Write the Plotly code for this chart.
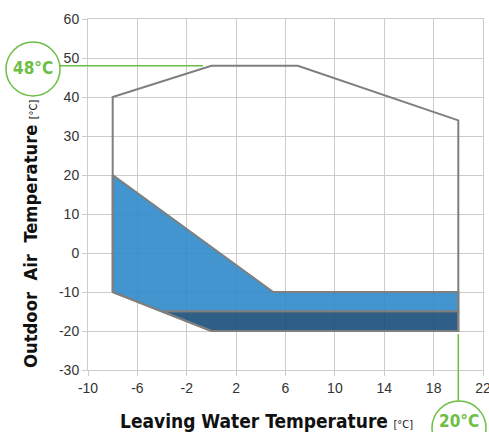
"""Operating envelope chart: outdoor air vs leaving water temperature."""

import plotly.graph_objects as go

# envelope outline (leaving water temp, outdoor air temp)
envelope_x = [-8, -8, 0, 7, 20, 20, 0, -8]
envelope_y = [-10, 40, 48, 48, 34, -20, -20, -10]

# heating region (light blue)
heat_x = [-8, 5, 20, 20, -4, -8, -8]
heat_y = [20, -10, -10, -15, -15, -10, 20]

# low temperature region (dark blue)
low_x = [-4, 20, 20, 0, -4]
low_y = [-15, -15, -20, -20, -15]

# axis ticks
x_ticks = [-10, -6, -2, 2, 6, 10, 14, 18, 22]
y_ticks = [-30, -20, -10, 0, 10, 20, 30, 40, 50, 60]

# highlighted limits
max_air_temp = 48
max_water_temp = 20

outline_color = "#7f7f7f"
green = "#6dbe45"
narrow_font = "Liberation Sans Narrow, Arial Narrow, DejaVu Sans Condensed, sans-serif"

# plot area in pixels, used to place the outside decorations
L, R, T, B = 88, 483, 19, 370


def px_x(p):
    return (p - L) / (R - L)


def px_y(p):
    return (B - p) / (B - T)


fig = go.Figure()

fig.add_trace(go.Scatter(
    x=heat_x, y=heat_y, mode="lines", fill="toself",
    fillcolor="rgba(46,138,201,0.9)",
    line={"color": outline_color, "width": 2},
    hoverinfo="skip",
))
fig.add_trace(go.Scatter(
    x=low_x, y=low_y, mode="lines", fill="toself",
    fillcolor="rgba(24,77,121,0.9)",
    line={"color": outline_color, "width": 2},
    hoverinfo="skip",
))
fig.add_trace(go.Scatter(
    x=envelope_x, y=envelope_y, mode="lines",
    line={"color": outline_color, "width": 2},
    hoverinfo="skip",
))

# 48°C marker: line from circle to envelope top
fig.add_shape(type="line", xref="paper", yref="y",
              x0=px_x(60), x1=px_x(203), y0=max_air_temp, y1=max_air_temp,
              line={"color": green, "width": 1.5}, layer="above")
fig.add_shape(type="circle", xref="paper", yref="paper",
              x0=px_x(6), x1=px_x(60), y0=px_y(96), y1=px_y(42),
              fillcolor="white", line={"color": green, "width": 1.5}, layer="above")
fig.add_annotation(text=f"<b>{max_air_temp}°C</b>", xref="paper", yref="paper",
                   x=px_x(33), y=px_y(68), xanchor="center", yanchor="middle",
                   showarrow=False,
                   font={"family": narrow_font, "size": 17, "color": green})

# 20°C marker: line from envelope bottom down to circle
fig.add_shape(type="line", xref="x", yref="paper",
              x0=max_water_temp, x1=max_water_temp, y0=px_y(334), y1=px_y(401),
              line={"color": green, "width": 1.5}, layer="above")
fig.add_shape(type="circle", xref="paper", yref="paper",
              x0=px_x(432), x1=px_x(486), y0=px_y(455), y1=px_y(401),
              fillcolor="white", line={"color": green, "width": 1.5}, layer="above")
fig.add_annotation(text=f"<b>{max_water_temp}°C</b>", xref="paper", yref="paper",
                   x=px_x(459), y=px_y(421), xanchor="center", yanchor="middle",
                   showarrow=False,
                   font={"family": narrow_font, "size": 17, "color": green})

# axis titles
fig.add_annotation(
    text="<b>Outdoor  Air  Temperature</b> <span style='font-size:11px;font-weight:normal'>[°C]</span>",
    xref="paper", yref="paper", x=px_x(30), y=0,
    xanchor="center", yanchor="bottom", textangle=-90, showarrow=False,
    font={"family": narrow_font, "size": 18.3, "color": "#111111"},
)
fig.add_annotation(
    text="<b>Leaving Water Temperature</b> <span style='font-size:11px'>[°C]</span>",
    xref="paper", yref="paper", x=px_x(266), y=px_y(421),
    xanchor="center", yanchor="middle", showarrow=False,
    font={"family": narrow_font, "size": 19, "color": "#111111"},
)

axis_common = {
    "showgrid": True,
    "gridcolor": "#cccccc",
    "gridwidth": 1,
    "zeroline": False,
    "showline": True,
    "linecolor": "#cccccc",
    "mirror": True,
    "ticks": "outside",
    "ticklen": 5,
    "tickcolor": "#cccccc",
    "automargin": False,
    "ticklabeloverflow": "allow",
    "tickfont": {"family": "Liberation Sans, Arial, sans-serif", "size": 14, "color": "#333333"},
}

fig.update_xaxes(**axis_common, range=[-10, 22], tickmode="array",
                 tickvals=x_ticks, ticktext=[str(v) for v in x_ticks])
fig.update_yaxes(**axis_common, range=[-30, 60], tickmode="array",
                 tickvals=y_ticks, ticktext=[str(v) for v in y_ticks])

fig.update_layout(
    width=489,
    height=432,
    margin={"l": L, "r": 489 - R, "t": T, "b": 432 - B},
    plot_bgcolor="white",
    paper_bgcolor="white",
    showlegend=False,
)

# page body margin would shift the chart inside the window
fig.write_html("out.html", config={"displayModeBar": False},
               post_script="document.body.style.margin = '0px';")
